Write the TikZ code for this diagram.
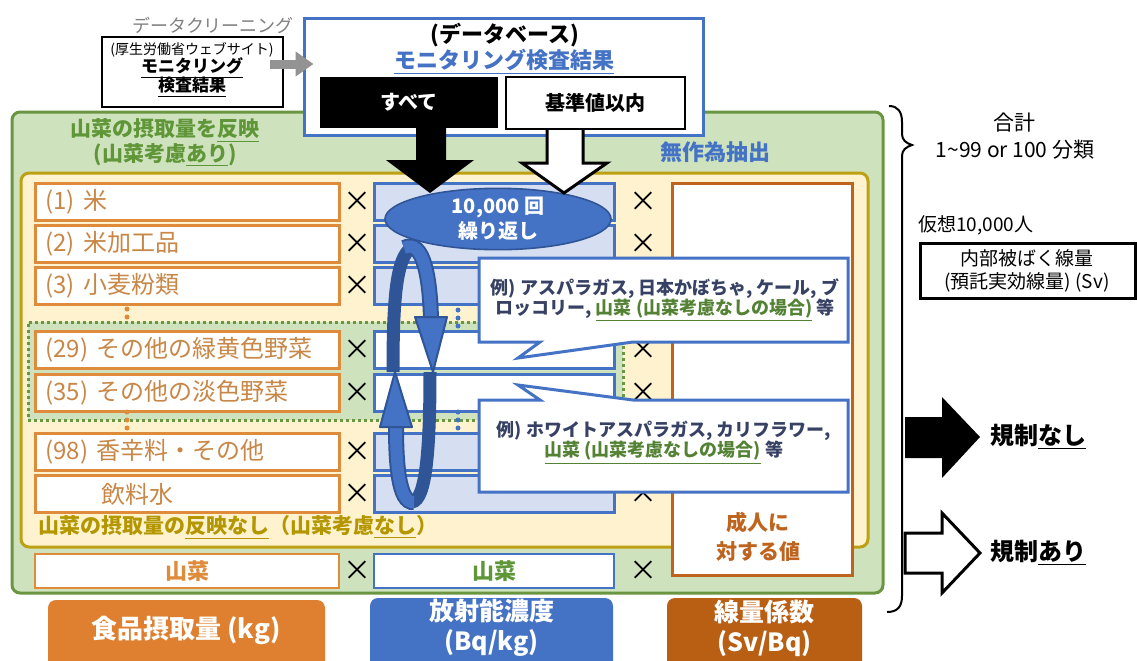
\documentclass[tikz,border=0pt]{standalone}
\usepackage{fontspec}
\setmainfont{Noto Sans CJK JP}
\usetikzlibrary{arrows.meta,calc,shapes.geometric}
\definecolor{blueMain}{RGB}{68,114,196}
\definecolor{blueLight}{RGB}{214,222,242}
\definecolor{blueDark}{RGB}{47,85,151}
\definecolor{orgB}{RGB}{222,140,60}
\definecolor{orgT}{RGB}{200,135,70}
\definecolor{orgLab}{RGB}{222,128,48}
\definecolor{brownB}{RGB}{190,100,30}
\definecolor{brownLab}{RGB}{185,95,20}
\definecolor{greenF}{RGB}{207,226,190}
\definecolor{greenB}{RGB}{106,150,65}
\definecolor{greenT}{RGB}{95,150,55}
\definecolor{greenT2}{RGB}{84,130,53}
\definecolor{yelF}{RGB}{255,243,207}
\definecolor{yelB}{RGB}{190,160,20}
\definecolor{oliveT}{RGB}{180,150,0}
\definecolor{grayT}{RGB}{128,128,128}
\definecolor{callT}{RGB}{55,65,100}
\newcommand\fsz[2]{\fontsize{#1}{#2}\selectfont}
\begin{document}
\begin{tikzpicture}[x=0.5pt,y=-0.5pt,
  txt/.style={inner sep=0pt, align=center},
  orow/.style={draw=orgB, line width=1.5pt, fill=white, minimum height=18.5pt, text width=142pt, inner xsep=5pt, inner ysep=0pt, align=left, anchor=west, text=orgT, font=\fsz{12}{14}},
  brow/.style={draw=blueMain, line width=1.5pt, fill=blueLight, minimum width=120pt, minimum height=18.5pt, anchor=west, inner sep=0pt},
  xmark/.style={font=\fsz{14}{14}, inner sep=0pt},
  labbox/.style={rounded corners=4pt, inner sep=0pt},
  labtxt/.style={txt, text=white, font=\bfseries\fsz{13}{15}},
  callout/.style={fill=white, draw=blueMain, line width=1.5pt, line join=miter},
  odots/.style={orgB, line width=2.5pt, line cap=round, dash pattern=on 0pt off 4pt},
  bdots/.style={blueMain, line width=2.5pt, line cap=round, dash pattern=on 0pt off 4pt},
  strandback/.style={blueDark, line width=6.5pt},
  strandfront/.style={blueMain, line width=6pt},
]
\useasboundingbox (0,0) rectangle (1137,660);
\fill[white] (0,0) rectangle (1137,660);

% big green and yellow areas
\node[draw=greenB, fill=greenF, line width=1.5pt, rounded corners=4pt, minimum width=435.5pt, minimum height=240.5pt, inner sep=0pt] (green) at (447.5,352.5) {};
\node[draw=yelB, fill=yelF, line width=1.5pt, rounded corners=4pt, minimum width=423.5pt, minimum height=187pt, inner sep=0pt] (yellow) at (444.5,360) {};
\node[draw=greenB, fill=greenF, line width=1.5pt, dash pattern=on 1.5pt off 1.5pt, minimum width=297.5pt, minimum height=49pt, inner sep=0pt] (gdot) at (325.5,371) {};

% titles inside green
\node[txt, text=greenT, font=\bfseries\fsz{10.5}{12}] (gt1) at (165,131) {山菜の摂取量を\underline{反映}};
\node[txt, text=greenT, font=\bfseries\fsz{10.5}{12}] (gt2) at (165,155) {(山菜考慮\underline{あり})};
\node[txt, text=blueMain, font=\bfseries\fsz{11}{13}] (rand) at (715,152) {無作為抽出};
\node[txt, anchor=west, text=oliveT, font=\bfseries\fsz{10.5}{12}] (nosan) at (38,527) {山菜の摂取量の\underline{反映なし}（山菜考慮\underline{なし}）};

% food rows
\node[orow] (r1) at (34,202) {(1) 米};
\node[orow] (r2) at (34,244) {(2) 米加工品};
\node[orow] (r3) at (34,286) {(3) 小麦粉類};
\node[orow] (r4) at (34,350) {(29) その他の緑黄色野菜};
\node[orow] (r5) at (34,393) {(35) その他の淡色野菜};
\node[orow] (r6) at (34,452) {(98) 香辛料・その他};
\node[orow] (r7) at (34,494) {\hspace*{28pt}飲料水};
\node[draw=orgB, line width=1pt, fill=white, minimum width=152pt, minimum height=17pt, inner sep=0pt, anchor=west, text=orgB, font=\bfseries\fsz{11}{13}] (r8) at (34,571) {山菜};
\draw[odots] ($(r3.south west)+(93,3)$) -- ($(r3.south west)+(93,14)$);
\draw[odots] ($(r6.north west)+(93,-20)$) -- ($(r6.north west)+(93,-3)$);

% concentration rows
\node[brow] (b1) at (373,202) {};
\node[brow] (b2) at (373,244) {};
\node[brow] (b3) at (373,286) {};
\node[brow, fill=white] (b4) at (373,350) {};
\node[brow, fill=white] (b5) at (373,393) {};
\node[brow] (b6) at (373,452) {};
\node[brow] (b7) at (373,494) {};
\node[draw=blueMain, line width=1pt, fill=white, minimum width=120pt, minimum height=17pt, inner sep=0pt, anchor=west, text=greenT, font=\bfseries\fsz{11}{13}] (b8) at (373,571) {山菜};
\draw[bdots] ($(b3.south west)+(85,4)$) -- ($(b3.south west)+(85,20)$);
\draw[bdots] ($(b6.north west)+(85,-20)$) -- ($(b6.north west)+(85,-4)$);

% multiplication signs (right ones of rows 3 and 6 are hidden behind the callouts)
\foreach \y/\n in {202/1,244/2,286/3,350/4,393/5,452/6,494/7,571/8}{
  \node[xmark] (xl\n) at (357,\y) {×};
}
\foreach \y/\n in {202/1,244/2,350/4,393/5,494/7,571/8}{
  \node[xmark] (xr\n) at (643,\y) {×};
}

% dose coefficient column
\node[draw=brownB, line width=1.5pt, fill=white, minimum width=90pt, minimum height=196pt, inner sep=0pt] (coef) at (762,379) {};
\node[txt, text=brownB, font=\bfseries\fsz{10.5}{14.5}] (adult) at (758,537) {成人に\\対する値};

% repetition ellipse
\node[ellipse, fill=blueMain, draw=blueDark, line width=0.8pt, minimum width=113pt, minimum height=29pt, inner sep=0pt, text=white, font=\bfseries\fsz{10}{12.5}, align=center] (rep) at (498,219) {10,000 回\\繰り返し};

% loop ring
\draw[strandback] (415,247) .. controls (396,250) and (393,300) .. (393,372);
\draw[strandback] (430,372) .. controls (430,450) and (426,500) .. (412,502);
\draw[blueDark, line width=8pt] (404,248) .. controls (424,238) and (430,280) .. (431,319);
\draw[strandfront] (404,248) .. controls (424,238) and (430,280) .. (431,319);
\filldraw[fill=blueMain, draw=blueDark, line width=1pt, line join=round] (415,317) -- (447,317) -- (433,372) -- cycle;
\draw[blueDark, line width=8pt] (414,502) .. controls (398,504) and (396,460) .. (396,425);
\draw[strandfront] (414,502) .. controls (398,504) and (396,460) .. (396,425);
\filldraw[fill=blueMain, draw=blueDark, line width=1pt, line join=round] (380,427) -- (412,427) -- (395,372) -- cycle;

% callouts
\filldraw[callout] (479,258) -- (848,258) -- (848,342) -- (633,342) -- (518,358) -- (540,342) -- (479,342) -- cycle;
\node[txt, text=callT, font=\bfseries\fsz{9}{10}] (c1) at (665,300) {例) アスパラガス, 日本かぼちゃ, ケール, ブ\\ロッコリー, \textcolor{greenT2}{\underline{山菜 (山菜考慮なしの場合)}} 等};
\filldraw[callout] (479,400) -- (540,400) -- (518,385) -- (633,400) -- (848,400) -- (848,492) -- (479,492) -- cycle;
\node[txt, text=callT, font=\bfseries\fsz{9}{10}] (c2) at (664,443) {例) ホワイトアスパラガス, カリフラワー,\\\textcolor{greenT2}{\underline{山菜 (山菜考慮なしの場合)}} 等};

% source box and data cleaning
\node[txt, text=grayT, font=\fsz{9}{10}] (clean) at (213,25) {データクリーニング};
\node[draw=black, line width=1pt, fill=white, minimum width=90.5pt, minimum height=35pt, inner sep=0pt] (src) at (192.5,72) {};
\node[txt, font=\fsz{7}{8}] (srcA) at (192,50) {(厚生労働省ウェブサイト)};
\node[txt, font=\bfseries\fsz{8.5}{9.5}] (srcB) at (192,68) {\underline{モニタリング}};
\node[txt, font=\bfseries\fsz{8.5}{9.5}] (srcC) at (192,87) {\underline{検査結果}};

% database box
\node[draw=blueMain, line width=1.5pt, fill=white, minimum width=199.5pt, minimum height=58.5pt, inner sep=0pt] (db) at (503.5,76.5) {};
\node[txt, font=\bfseries\fsz{11}{13}] (dbA) at (505,35) {(データベース)};
\node[txt, text=blueMain, font=\bfseries\fsz{11}{13}] (dbB) at (504,62) {\underline{モニタリング検査結果}};
\node[fill=black, minimum width=89pt, minimum height=25.5pt, inner sep=0pt, text=white, font=\bfseries\fsz{10}{12}] (all) at (409,102.5) {すべて};
\node[draw=black, line width=0.8pt, fill=white, minimum width=89.5pt, minimum height=26pt, inner sep=0pt, font=\bfseries\fsz{10}{12}] (within) at (595.5,103) {基準値以内};

\draw[line width=4.5pt, gray!85, -{Triangle[length=9pt,width=12pt]}] ($(src.east)+(-14,-8)$) -- ($(db.west)+(11,-12.5)$);

% block arrows down
\fill[black] (416,126) -- (446,126) -- (446,160) -- (474,160) -- (430,193) -- (386,160) -- (416,160) -- cycle;
\fill[white] (547,130) -- (583,130) -- (583,163) -- (607,163) -- (564,193) -- (522,163) -- (547,163) -- cycle;
\draw[black, line width=1.5pt, line join=miter] (547,130) -- (547,163) -- (522,163) -- (564,193) -- (607,163) -- (583,163) -- (583,130);

% bottom labels
\node[labbox, fill=orgLab, minimum width=138.5pt, minimum height=36pt] (labA) at (186.5,636) {};
\node[labtxt] (labAt) at (186,630) {食品摂取量 (kg)};
\node[labbox, fill=blueMain, minimum width=121.5pt, minimum height=37pt] (labB) at (491.5,635) {};
\node[labtxt, font=\bfseries\fsz{12.5}{15}] (labBt) at (491.5,628) {放射能濃度\\(Bq/kg)};
\node[labbox, fill=brownLab, minimum width=97.5pt, minimum height=37pt] (labC) at (764.5,635) {};
\node[labtxt, font=\bfseries\fsz{12.5}{15}] (labCt) at (764.5,628) {線量係数\\(Sv/Bq)};

% brace and totals
\draw[line width=1pt] (889,106) .. controls (898,106) and (902,112) .. (902,122) -- (902,134) .. controls (902,140) and (906,143) .. (912,145) .. controls (906,147) and (902,150) .. (902,156) -- (902,596) .. controls (902,606) and (898,612) .. (887,612);
\node[txt, font=\fsz{10.5}{12}] (sum1) at (1014,123) {合計};
\node[txt, font=\fsz{10.5}{12}] (sum2) at (1015,150) {1\textasciitilde 99 or 100 分類};
\node[txt, anchor=west, font=\fsz{9.5}{11}] (virt) at (918,225) {仮想10,000人};
\node[draw=black, line width=1.5pt, fill=white, minimum width=107.5pt, minimum height=27.5pt, inner sep=0pt] (dose) at (1027.5,270.5) {};
\node[txt, font=\fsz{9.5}{11.5}] (doset) at (1027,271) {内部被ばく線量\\(預託実効線量) (Sv)};

% regulation arrows
\fill[black] (905,417) -- (942,417) -- (942,397) -- (980,437) -- (942,478) -- (942,458) -- (905,458) -- cycle;
\node[txt, anchor=west, font=\bfseries\fsz{12}{14}] (noreg) at (990,437) {規制\underline{なし}};
\filldraw[fill=white, draw=black, line width=1.5pt, line join=miter] (905,533) -- (942,533) -- (942,513) -- (980,553) -- (942,593) -- (942,573) -- (905,573) -- cycle;
\node[txt, anchor=west, font=\bfseries\fsz{12}{14}] (reg) at (990,553) {規制\underline{あり}};
\end{tikzpicture}
\end{document}
